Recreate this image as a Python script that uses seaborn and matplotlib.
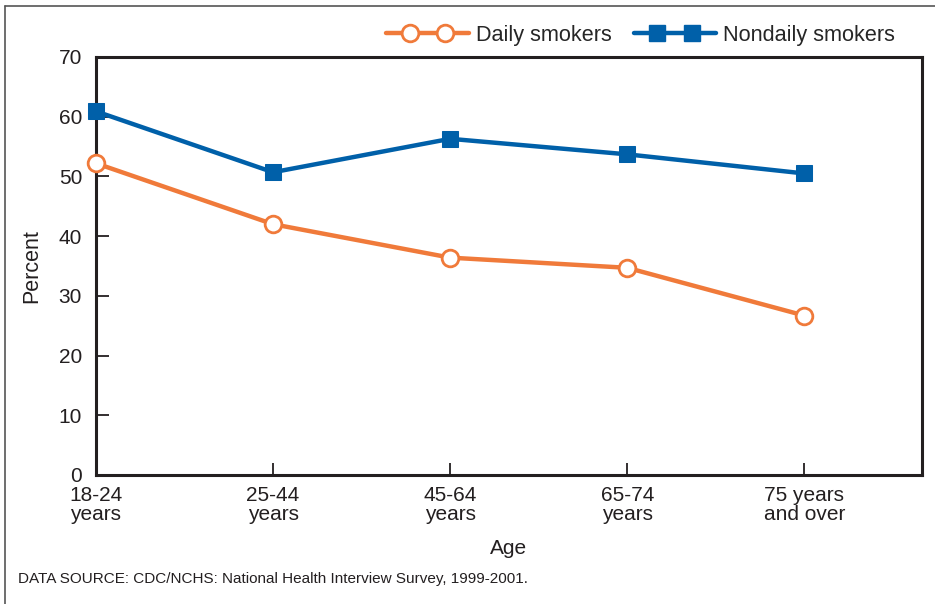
import matplotlib
matplotlib.use("Agg")
import numpy as np
import matplotlib.pyplot as plt
from matplotlib.lines import Line2D
from matplotlib.legend_handler import HandlerLine2DCompound
import seaborn as sns
import pandas as pd

categories = ["18-24\nyears", "25-44\nyears", "45-64\nyears", "65-74\nyears", "75 years\nand over"]
daily = [52.2, 42.0, 36.4, 34.7, 26.7]
nondaily = [60.9, 50.7, 56.3, 53.7, 50.5]
series_names = ["Daily smokers", "Nondaily smokers"]
yticks = [0, 10, 20, 30, 40, 50, 60, 70]

sns.set_theme(style="white")
plt.rcParams['font.family'] = ['Liberation Sans', 'DejaVu Sans']

df = pd.DataFrame({
    "Age": categories * 2,
    "Percent": daily + nondaily,
    "Series": [series_names[0]] * 5 + [series_names[1]] * 5,
})

orange = "#F07A3A"
blue = "#0060A9"
ink = "#231f20"
fs = 15

fig = plt.figure(figsize=(9.35, 6.04), dpi=100)
ax = fig.add_axes([96/935, 1 - 475/604, (922-96)/935, (475-57)/604])

sub_d = df[df.Series == series_names[0]]
sub_n = df[df.Series == series_names[1]]
sns.lineplot(data=sub_n, x="Age", y="Percent", ax=ax, color=blue, lw=3.2,
             marker="s", markersize=11.5, markeredgecolor=blue, markerfacecolor=blue,
             sort=False, clip_on=False, zorder=3)
sns.lineplot(data=sub_d, x="Age", y="Percent", ax=ax, color=orange, lw=3.2,
             marker="o", markersize=12, markeredgecolor=orange, markerfacecolor="white",
             markeredgewidth=2, sort=False, clip_on=False, zorder=4)

ax.set_xlim(0, 4.665)
ax.set_ylim(0, 70)
ax.set_yticks(yticks)
ax.set_xticks(range(len(categories)))
ax.set_xticklabels(categories, fontsize=fs, color=ink, linespacing=1.0)
ax.set_yticklabels([str(t) for t in yticks], fontsize=fs, color=ink)
ax.tick_params(axis="both", direction="in", length=9, width=1.3, colors=ink,
               labelcolor=ink)
ax.tick_params(axis="x", pad=8)
ax.tick_params(axis="y", pad=10)
ax.yaxis.set_ticks_position("left")
ax.xaxis.set_ticks_position("bottom")
for s in ax.spines.values():
    s.set_color(ink)
    s.set_linewidth(2.2)

ax.set_xlabel("Age", fontsize=fs, color=ink, labelpad=11)
ax.set_ylabel("Percent", fontsize=fs + 0.5, color=ink, labelpad=12)


class PaddedMarkerHandler(HandlerLine2DCompound):
    def get_xdata(self, legend, xdescent, ydescent, width, height, fontsize):
        pad = self._marker_pad * fontsize
        xdata = np.array([-xdescent, -xdescent + width])
        xdata_marker = np.linspace(-xdescent + pad, -xdescent + width - pad, 2)
        return xdata, xdata_marker


handles = [
    Line2D([], [], color=orange, lw=3.2, marker="o", markersize=12,
           markerfacecolor="white", markeredgecolor=orange, markeredgewidth=2),
    Line2D([], [], color=blue, lw=3.2, marker="s", markersize=11.5,
           markerfacecolor=blue, markeredgecolor=blue),
]
hmap = {h: PaddedMarkerHandler(numpoints=2, marker_pad=1.1) for h in handles}
fig.legend(handles, series_names, loc="center right", bbox_to_anchor=(904/935, 1 - 35/604),
           ncol=2, frameon=False, fontsize=15.6, handlelength=3.8,
           handletextpad=0.35, columnspacing=1.0, borderaxespad=0, handler_map=hmap)

fig.text(18/935, 1 - 579/604, "DATA SOURCE: CDC/NCHS: National Health Interview Survey, 1999-2001.",
         fontsize=11, color=ink, va="center", ha="left")

# outer frame lines (left and top)
fig.add_artist(Line2D([5/935, 5/935], [0, 1 - 6/604], transform=fig.transFigure,
                      color="#555555", lw=1.2))
fig.add_artist(Line2D([5/935, 1], [1 - 6/604, 1 - 6/604], transform=fig.transFigure,
                      color="#555555", lw=1.2))

fig.savefig("out.png", dpi=100)
